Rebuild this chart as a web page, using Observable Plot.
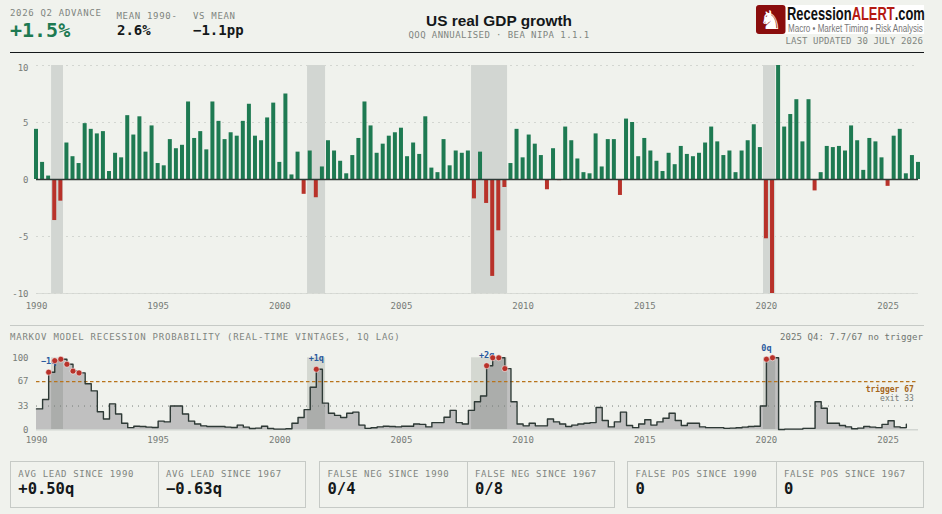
<!DOCTYPE html>
<html><head><meta charset="utf-8">
<script src="https://cdn.jsdelivr.net/npm/d3@7"></script>
<script src="https://cdn.jsdelivr.net/npm/@observablehq/plot@0.6"></script>
<style>
html,body{margin:0;padding:0;background:#f0f2ed;}
body{width:942px;height:514px;position:relative;overflow:hidden;font-family:"DejaVu Sans Mono",monospace;}
.t{position:absolute;white-space:nowrap;line-height:1;}
.lab{font-size:9px;letter-spacing:.68px;color:#7f8580;}
.val{font-size:14px;font-weight:700;color:#14181a;}
.rule{position:absolute;height:0;}
.box{position:absolute;top:461px;height:45px;border:1.5px solid #c6cac6;box-sizing:content-box;}
.div{position:absolute;top:461px;height:46px;width:0;border-left:1.5px solid #c6cac6;}
.svgwrap{position:absolute;left:0;}
.svgwrap svg{overflow:visible;display:block;}
</style></head><body>

<div class="t lab" style="left:10px;top:8.5px">2026 Q2 ADVANCE</div>
<div class="t" style="left:10px;top:20px;font-size:20px;font-weight:700;color:#1e7a52">+1.5%</div>
<div class="t lab" style="left:116.5px;top:11.5px">MEAN 1990-</div>
<div class="t val" style="left:117px;top:23px">2.6%</div>
<div class="t lab" style="left:193px;top:11.5px">VS MEAN</div>
<div class="t val" style="left:193px;top:23px">−1.1pp</div>
<div class="t" style="left:399px;width:200px;text-align:center;top:11.5px;font:700 15.4px 'Liberation Sans',sans-serif;color:#14181a">US real GDP growth</div>
<div class="t lab" style="left:349px;width:300px;text-align:center;top:30.5px;letter-spacing:.42px">QOQ ANNUALISED · BEA NIPA 1.1.1</div>

<svg style="position:absolute;left:756px;top:5px;overflow:visible" width="168" height="29" viewBox="0 0 168 29">
  <rect width="168" height="29" fill="#ffffff"/>
  <rect width="29.5" height="29" rx="3" fill="#8a0d0d"/>
  <text x="14.7" y="24" text-anchor="middle" font-family="DejaVu Sans" font-size="26" fill="#ffffff">♞</text>
  <text id="logoMain" y="14.5" font-family="Liberation Sans Narrow,Liberation Sans" font-size="17.5" font-weight="700" fill="#111"><tspan>Recession</tspan><tspan fill="#b51a12">ALERT</tspan><tspan>.com</tspan></text>
  <text id="logoSub" y="27" font-family="Liberation Sans Narrow,Liberation Sans" font-size="11" fill="#777">Macro • Market Timing • Risk Analysis</text>
</svg>
<div class="t" style="right:19px;top:36.5px;font-size:9px;letter-spacing:.08px;color:#7f8580">LAST UPDATED 30 JULY 2026</div>

<div class="rule" style="left:10px;width:914px;top:52px;border-top:1.2px solid #14181a"></div>
<div class="svgwrap" id="top" style="top:55px"></div>
<div class="rule" style="left:10px;width:914px;top:325px;border-top:1px solid #c6cac6"></div>
<div class="t lab" style="left:10px;top:332.5px;letter-spacing:.78px">MARKOV MODEL RECESSION PROBABILITY (REAL-TIME VINTAGES, 1Q LAG)</div>
<div class="t" style="right:19px;top:332.5px;font-size:9px;letter-spacing:.08px;color:#6f7570">2025 Q4: 7.7/67 no trigger</div>
<div class="svgwrap" id="low" style="top:337px"></div>

<div id="stats"></div>

<script>
const startYear = 1990;
// Real GDP growth, QoQ annualised, one row per year (Q1..Q4), 1990 Q1 to 2026 Q2
const gdpGrowth = [
  4.4,1.5,0.3,-3.6,
  -1.9,3.2,2.0,1.4,
  4.9,4.4,4.0,4.2,
  0.7,2.3,1.9,5.6,
  3.9,5.5,2.4,4.7,
  1.4,1.2,3.5,2.7,
  3.0,6.8,3.6,4.2,
  2.6,6.8,5.1,3.5,
  4.1,3.8,5.1,6.6,
  3.8,3.4,5.4,6.7,
  1.5,7.5,0.4,2.4,
  -1.3,2.5,-1.6,1.1,
  3.4,2.5,1.6,0.5,
  2.1,3.6,6.8,4.7,
  2.3,3.1,3.8,4.1,
  4.5,2.0,3.2,2.2,
  5.5,1.0,0.6,3.5,
  1.2,2.5,2.3,2.5,
  -1.7,2.4,-2.1,-8.5,
  -4.5,-0.7,1.4,4.4,
  1.9,3.9,3.1,2.1,
  -0.9,2.7,-0.1,4.6,
  3.4,1.8,0.6,0.5,
  4.0,1.1,3.5,3.5,
  -1.4,5.3,5.0,2.0,
  3.6,2.5,1.6,0.7,
  2.3,1.3,2.9,2.2,
  2.0,2.3,3.2,4.6,
  3.3,2.1,2.5,0.6,
  2.5,3.4,4.8,2.8,
  -5.2,-10,10,4.6,
  5.7,7.0,3.3,7.0,
  -1.0,0.6,2.9,2.8,
  2.9,2.5,4.7,3.4,
  0.8,3.6,3.3,1.9,
  -0.6,3.8,4.4,0.5,
  2.1,1.5
];
// Markov recession probability, real-time vintages, one row per year, 1990 Q1 to 2025 Q4
const recessionProb = [
  29,42,80,96,
  98,91,81.5,79,
  64,54,25,15,
  36,22,9,3,
  5,4.6,3.7,3.2,
  12,11,33,33,
  22,12,8,5.5,
  4.6,4.6,4.6,3.7,
  3.2,6.5,3.7,1.9,
  2.3,5,1.9,1,
  1,1.4,9,17,
  28,59,84,37,
  23,20,17,23,
  24.5,6.5,2,2.8,
  4,5,4.6,4,
  5,5,8,7.5,
  4,10,10,17.5,
  27,10,8,27,
  39,47,89,100,
  100,85,39,8,
  5.5,9,5.5,5.5,
  15,11,8,4.6,
  6.5,8,9,10,
  31,13,4,11,
  24.5,6,3,8,
  14,6.5,11,16,
  23,13,6,9,
  9,4,3,3,
  3,2,2.3,2.8,
  3.7,4.6,5,33,
  98,100,0.5,1,
  1,1,2,2,
  39,30,9,9,
  6,4,1.4,2.3,
  4.6,3.7,3,7.5,
  12.5,4,3,7.7
];
const recessionStart = [1990.62, 2001.14, 2007.88, 2019.88];
const recessionEnd   = [1991.11, 2001.88, 2009.36, 2020.38];
const signalQuarters = [1990.5,1990.75,1991,1991.25,1991.5,1991.75,2001.5,2008.5,2008.75,2009,2009.25,2020,2020.25];
const leadQuarters = [1990.5,2001.5,2008.5,2020];
const leadLabels = ["−1q","+1q","+2q","0q"];
const xTicks = [1990,1995,2000,2005,2010,2015,2020,2025];
const gdpTicks = [-10,-5,0,5];
const gdpTopTick = [10];
const probTicks = [0,33,67,100];
const triggerLevel = 67, exitLevel = 33;
const statLabels = ["AVG LEAD SINCE 1990","AVG LEAD SINCE 1967","FALSE NEG SINCE 1990","FALSE NEG SINCE 1967","FALSE POS SINCE 1990","FALSE POS SINCE 1967"];
const statValues = ["+0.50q","−0.63q","0/4","0/8","0","0"];

// Squeeze a logo line horizontally so it spans [x, x+w] of the logo box
function fitText(id, x, w){
  const el = document.getElementById(id);
  const s = w / el.getComputedTextLength();
  el.setAttribute("transform", `translate(${x},0) scale(${s},1)`);
}
fitText("logoMain", 31, 136.5);
fitText("logoSub", 32, 135);

const gdp = gdpGrowth.map((v,i)=>({t:startYear+i/4,v}));
const prob = recessionProb.map((v,i)=>({t:startYear+i/4,v}));
const bands = recessionStart.map((a,i)=>({a,b:recessionEnd[i]}));
const probAt = t => prob.find(d=>d.t===t).v;
const signals = signalQuarters.map(t=>({t,v:probAt(t)}));
const leads = leadQuarters.map((t,i)=>({t,v:probAt(t),s:leadLabels[i]}));

const MONO = "'DejaVu Sans Mono',monospace";
const fmt = d=>String(d);
const grey = "#777c78";
const xDomain = [1990,2026.25];
const base = {width:942,marginLeft:36,marginRight:24,style:{background:"transparent",fontFamily:MONO,fontSize:"9px",overflow:"visible"}};
const barW = 0.082;

document.getElementById("top").append(Plot.plot({
  ...base, height:262, marginTop:10, marginBottom:24,
  x:{domain:xDomain},
  y:{domain:[-10,10]},
  marks:[
    Plot.rectY(bands,{x1:"a",x2:"b",y1:-10,y2:10,fill:"#d2d6d2"}),
    Plot.ruleY([-10],{stroke:"#d9dcd7",strokeWidth:1.2}),
    Plot.ruleY([-10,-5,5,10],{stroke:"#d3d6d1",strokeWidth:1.2,strokeDasharray:"2 4"}),
    Plot.rectY(gdp,{x1:d=>d.t-barW,x2:d=>d.t+barW,y1:0,y2:"v",fill:d=>d.v>=0?"#1e7a52":"#b8322a"}),
    Plot.ruleY([0],{stroke:"#2e3a36",strokeWidth:1.5}),
    Plot.axisY({ticks:gdpTicks,tickSize:0,tickPadding:8,tickFormat:fmt,label:null,color:grey,dy:0.7}),
    Plot.axisY({ticks:gdpTopTick,tickSize:0,tickPadding:8,tickFormat:fmt,label:null,color:grey,dy:2.5}),
    Plot.axisX({ticks:xTicks,tickSize:0,tickPadding:9,tickFormat:fmt,label:null,color:grey})
  ]
}));

document.getElementById("low").append(Plot.plot({
  ...base, height:113, marginTop:20.3, marginBottom:20.7,
  x:{domain:xDomain},
  y:{domain:[0,100]},
  marks:[
    Plot.areaY(prob,{x:"t",y:"v",curve:"step-after",fill:"#c0c0c0"}),
    Plot.rectY(bands,{x1:"a",x2:"b",y1:0,y2:100,fill:"#334038",fillOpacity:0.15}),
    Plot.ruleY([0],{stroke:"#d2d6d2",strokeWidth:1.6}),
    Plot.ruleY([exitLevel],{stroke:"#777c78",strokeWidth:1,strokeDasharray:"1 5"}),
    Plot.ruleY([triggerLevel],{stroke:"#b8741c",strokeWidth:1.3,strokeDasharray:"3.5 2.5"}),
    Plot.line(prob,{x:"t",y:"v",curve:"step-after",stroke:"#2e3a36",strokeWidth:1.4}),
    Plot.text(leads,{x:"t",y:"v",text:"s",dy:-10.6,fill:"#2a5a9e",fontSize:8.5,fontWeight:700}),
    Plot.dot(signals,{x:"t",y:"v",r:3,fill:"#b8322a",stroke:"#ffffff",strokeOpacity:0.55,strokeWidth:1}),
    Plot.text(["trigger 67"],{frameAnchor:"right",y:triggerLevel,dx:-4.7,dy:8,fill:"#a5651a",fontSize:8,fontWeight:700,textAnchor:"end"}),
    Plot.text(["exit 33"],{frameAnchor:"right",y:exitLevel,dx:-4.7,dy:-7.5,fill:"#777c78",fontSize:8,textAnchor:"end"}),
    Plot.axisY({ticks:probTicks,tickSize:0,tickPadding:8,tickFormat:fmt,label:null,color:grey}),
    Plot.axisX({ticks:xTicks,tickSize:0,tickPadding:7,tickFormat:fmt,label:null,color:grey})
  ]
}));

// Statistic panels
const stats = document.getElementById("stats");
const groups = [[10,305.5,157.5,18.3,166],[318.5,614.5,466.5,327.5,475],[627,923.5,775.5,635.5,784]];
groups.forEach(([l,r,m,x1,x2],g)=>{
  stats.insertAdjacentHTML("beforeend",
    `<div class="box" style="left:${l}px;width:${r-l-1.5}px"></div><div class="div" style="left:${m}px"></div>`);
  [x1,x2].forEach((x,k)=>{
    const i=g*2+k;
    stats.insertAdjacentHTML("beforeend",
      `<div class="t lab" style="left:${x}px;top:470px">${statLabels[i]}</div>`+
      `<div class="t val" style="left:${x}px;top:481.5px;font-size:15.5px">${statValues[i]}</div>`);
  });
});
</script>
</body></html>
